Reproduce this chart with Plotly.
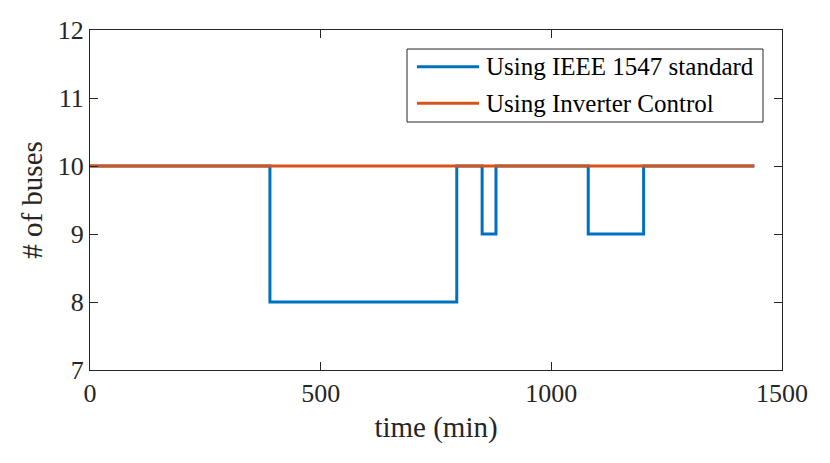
import plotly.graph_objects as go

# step changes in number of buses over the day (minutes)
time_ieee = [0, 390, 795, 850, 880, 1080, 1200, 1440]
buses_ieee = [10, 8, 10, 9, 10, 9, 10, 10]

time_inv = [0, 1440]
buses_inv = [10, 10]

x_ticks = [0, 500, 1000, 1500]
y_ticks = [7, 8, 9, 10, 11, 12]

FONT = "Liberation Serif"
AX = "#262626"
BLUE = '#0072BD'
ORANGE = '#D95319'

fig = go.Figure()
fig.add_trace(go.Scatter(x=time_ieee, y=buses_ieee, mode='lines', line_shape='hv',
                         line=dict(color=BLUE, width=3),
                         name='Using IEEE 1547 standard'))
fig.add_trace(go.Scatter(x=time_inv, y=buses_inv, mode='lines',
                         line=dict(color=ORANGE, width=3),
                         name='Using Inverter Control'))

axis_common = dict(showgrid=False, zeroline=False, showline=True, linecolor=AX,
                   linewidth=1, mirror='ticks', ticks='inside', ticklen=8,
                   tickcolor=AX, automargin=False,
                   tickfont=dict(family=FONT, size=26, color=AX))

fig.update_xaxes(range=[0, 1500], tickvals=x_ticks, **axis_common,
                 title=dict(text='time (min)', font=dict(family=FONT, size=29, color=AX), standoff=9))
fig.update_yaxes(range=[7, 12], tickvals=y_ticks, **axis_common,
                 title=dict(text='# of buses', font=dict(family=FONT, size=29, color=AX), standoff=6))

# matlab-style legend box (plotly's own legend swatches are too short)
W, H, L, T = 692, 340, 90, 30
px = lambda v: (v - L) / W
py = lambda v: (T + H - v) / H

fig.add_shape(type='rect', xref='paper', yref='paper', x0=px(407), x1=px(763),
              y0=py(122), y1=py(49), line=dict(color=AX, width=1), fillcolor='white', layer='above')
for i, tr in enumerate(fig.data):
    yy = py(66.7 + i * 36.6)
    fig.add_shape(type='line', xref='paper', yref='paper', x0=px(417), x1=px(479),
                  y0=yy, y1=yy, line=dict(color=tr.line.color, width=3), layer='above')
    fig.add_annotation(x=px(484), y=yy, xref='paper', yref='paper', text=tr.name,
                       showarrow=False, xanchor='left', yanchor='middle',
                       font=dict(family=FONT, size=25, color='black'))

fig.update_layout(
    width=830, height=463,
    margin=dict(l=L, r=830 - L - W, t=T, b=463 - T - H),
    plot_bgcolor='white', paper_bgcolor='white',
    showlegend=False,
)

# drop the default page margin so the figure sits at the window corner
fig.write_html("out.html", config={'displayModeBar': False},
               post_script="document.body.style.margin='0';")
